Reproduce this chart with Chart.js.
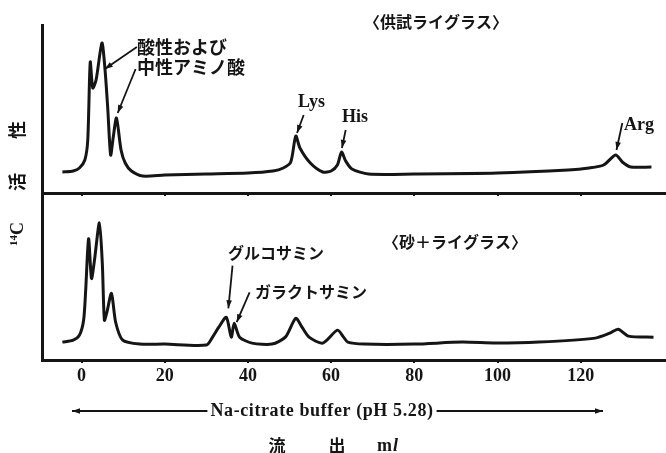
<!DOCTYPE html>
<html>
<head>
<meta charset="utf-8">
<script src="https://cdn.jsdelivr.net/npm/chart.js@4.4.1/dist/chart.umd.min.js"></script>
<style>
  html, body { margin: 0; padding: 0; background: #fff; }
  #wrap { position: relative; width: 666px; height: 453px; }
  #wrap canvas { position: absolute; left: 0; top: 0; }
</style>
</head>
<body>
<div id="wrap">
  <canvas id="chartTop" width="666" height="453"></canvas>
  <canvas id="chartBot" width="666" height="453"></canvas>
</div>
<script>
// 流出量 (ml) の目盛
const xTicks = [0, 20, 40, 60, 80, 100, 120];

// 〈供試ライグラス〉 14C 活性
const topMl  = [-4.6, -2, -0.5, 0.8, 1.5, 2.1, 2.7, 3.5, 4.9, 5.6, 6.3, 7.0, 7.6, 8.4, 9.5, 10.5, 12, 14.7,
                20, 30, 40, 46, 48.5, 50.3, 51.5, 52.5, 55, 58, 60, 61.5, 62.5, 63.5, 65, 69,
                80, 100, 117, 122, 125.5, 128.4, 130, 132, 137];
const topAct = [21, 22, 25, 33, 53, 131, 105, 113, 150, 126, 85, 38, 55, 75, 43, 30, 22, 17,
                18, 19, 20, 22, 25, 31, 57, 45, 30, 21, 22, 28, 41, 32, 24, 19,
                19, 20, 23, 25, 28, 38, 31, 26, 26];

// 〈砂＋ライグラス〉 14C 活性
const botMl  = [-4.6, -2, -0.5, 0.5, 1, 1.7, 2.4, 3.1, 4.3, 5.0, 5.5, 6.1, 7.2, 8.2, 9.9, 14,
                20, 30, 31.5, 33, 34.8, 36, 36.7, 38, 41, 45.8, 49, 51.5, 53, 54.7, 58, 61.5, 63, 64, 68,
                80, 91.5, 99.6, 110, 123.5, 127, 129, 131.5, 137.5];
const botAct = [18, 20, 25, 40, 70, 122, 82, 100, 138, 97, 40, 48, 67, 38, 20, 16,
                16, 15, 23, 33, 43, 23, 37, 23, 17, 16, 23, 42, 33, 23, 17, 30, 23, 18, 16,
                16, 18, 17, 18, 22, 27, 31, 24, 23];

const INK = '#151515';
const SERIF = '"Liberation Serif", "DejaVu Serif", serif';
const JP = '"Noto Sans CJK JP", sans-serif';

function arrow(ctx, x1, y1, x2, y2) {
  ctx.beginPath();
  ctx.moveTo(x1, y1);
  ctx.lineTo(x2, y2);
  ctx.stroke();
  const a = Math.atan2(y2 - y1, x2 - x1), L = 8, W = 2.8;
  ctx.beginPath();
  ctx.moveTo(x2, y2);
  ctx.lineTo(x2 - L * Math.cos(a) + W * Math.sin(a), y2 - L * Math.sin(a) - W * Math.cos(a));
  ctx.lineTo(x2 - L * Math.cos(a) - W * Math.sin(a), y2 - L * Math.sin(a) + W * Math.cos(a));
  ctx.closePath();
  ctx.fill();
}

function pts(xs, ys) {
  return xs.map((x, i) => ({ x: x, y: ys[i] }));
}

function baseOptions(padTop, xHeight, showLabels) {
  return {
    responsive: false,
    animation: false,
    layout: { padding: { top: padTop, left: 0, right: 0, bottom: 0 } },
    plugins: { legend: { display: false }, tooltip: { enabled: false } },
    scales: {
      x: {
        type: 'linear', min: -9.5, max: 140.5,
        afterBuildTicks: s => { s.ticks = xTicks.map(v => ({ value: v })); },
        afterFit: s => { s.height = xHeight; },
        grid: { drawOnChartArea: false, color: INK, lineWidth: 2, tickLength: 3 },
        border: { color: INK, width: 3 },
        ticks: {
          display: showLabels, color: INK, padding: 3,
          font: { family: SERIF, size: 18, weight: 'bold' }
        }
      },
      y: {
        min: 0, max: 168,
        afterFit: s => { s.width = 42; },
        ticks: { display: false },
        grid: { display: false },
        border: { color: INK, width: 3 }
      }
    }
  };
}

const topNotes = {
  id: 'topNotes',
  afterDraw(chart) {
    const ctx = chart.ctx, sx = chart.scales.x, sy = chart.scales.y;
    const p = (x, y) => [sx.getPixelForValue(x), sy.getPixelForValue(y)];
    ctx.save();
    ctx.fillStyle = INK; ctx.strokeStyle = INK; ctx.lineWidth = 1.8;
    ctx.textBaseline = 'middle';

    ctx.font = 'bold 16px ' + JP;
    ctx.textAlign = 'center';
    ctx.fillText('〈供試ライグラス〉', 436, 22);

    ctx.textAlign = 'left';
    ctx.font = 'bold 18px ' + JP;
    ctx.fillText('酸性および', 137, 47);
    ctx.fillText('中性アミノ酸', 137, 67);
    arrow(ctx, ...p(13.3, 146), ...p(5.6, 124));
    arrow(ctx, ...p(13.0, 124), ...p(8.7, 80));

    ctx.font = 'bold 18px ' + SERIF;
    ctx.fillText('Lys', 298, 102);
    ctx.fillText('His', 342, 117);
    ctx.fillText('Arg', 624, 125);
    arrow(ctx, ...p(53.4, 78), ...p(51.8, 60));
    arrow(ctx, ...p(63.5, 63), ...p(62.6, 45));
    arrow(ctx, ...p(130.0, 70), ...p(128.6, 43));

    // 縦軸ラベル (14C 活性)
    ctx.translate(17, 0);
    ctx.rotate(-Math.PI / 2);
    ctx.textAlign = 'left';
    ctx.font = 'bold 11px ' + SERIF;
    ctx.fillText('14', -246, -3);
    ctx.font = 'bold 18px ' + SERIF;
    ctx.fillText('C', -235, 1);
    ctx.textAlign = 'center';
    ctx.font = 'bold 18px ' + JP;
    ctx.fillText('活', -182, 0);
    ctx.fillText('性', -130, 0);
    ctx.restore();
  }
};

const botNotes = {
  id: 'botNotes',
  afterDraw(chart) {
    const ctx = chart.ctx, sx = chart.scales.x, sy = chart.scales.y;
    const p = (x, y) => [sx.getPixelForValue(x), sy.getPixelForValue(y)];
    ctx.save();
    ctx.fillStyle = INK; ctx.strokeStyle = INK; ctx.lineWidth = 1.8;
    ctx.textBaseline = 'middle';

    ctx.font = 'bold 16px ' + JP;
    ctx.textAlign = 'center';
    ctx.fillText('〈砂＋ライグラス〉', 455, 242);

    ctx.textAlign = 'left';
    ctx.font = 'bold 16px ' + JP;
    ctx.fillText('グルコサミン', 228, 253);
    ctx.fillText('ガラクトサミン', 255, 292);
    arrow(ctx, ...p(36.3, 95), ...p(35.3, 52));
    arrow(ctx, ...p(40.4, 68), ...p(37.3, 38));

    // 溶出液の矢印
    ctx.font = 'bold 18px ' + SERIF;
    ctx.letterSpacing = '0.6px';
    ctx.textAlign = 'center';
    const label = 'Na-citrate buffer (pH 5.28)';
    ctx.fillText(label, 322, 411);
    const w = ctx.measureText(label).width;
    ctx.letterSpacing = '0px';
    ctx.lineWidth = 1.8;
    arrow(ctx, 322 - w / 2 - 3, 411, 72, 411);
    arrow(ctx, 322 + w / 2 + 3, 411, 603, 411);

    ctx.font = 'bold 17px ' + JP;
    ctx.fillText('流', 277, 446);
    ctx.fillText('出', 337, 446);
    ctx.textAlign = 'left';
    ctx.font = 'bold 18px ' + SERIF;
    ctx.fillText('m', 377, 446);
    const mw = ctx.measureText('m').width;
    ctx.font = 'italic bold 18px ' + SERIF;
    ctx.fillText('l', 377 + mw + 1, 446);
    ctx.restore();
  }
};

const lineStyle = {
  borderColor: INK, borderWidth: 3, pointRadius: 0, tension: 0.25, fill: false
};

new Chart(document.getElementById('chartTop'), {
  type: 'line',
  data: { datasets: [Object.assign({ data: pts(topMl, topAct) }, lineStyle)] },
  options: baseOptions(25, 260, false),
  plugins: [topNotes]
});

new Chart(document.getElementById('chartBot'), {
  type: 'line',
  data: { datasets: [Object.assign({ data: pts(botMl, botAct) }, lineStyle)] },
  options: baseOptions(193, 93, true),
  plugins: [botNotes]
});
</script>
</body>
</html>
